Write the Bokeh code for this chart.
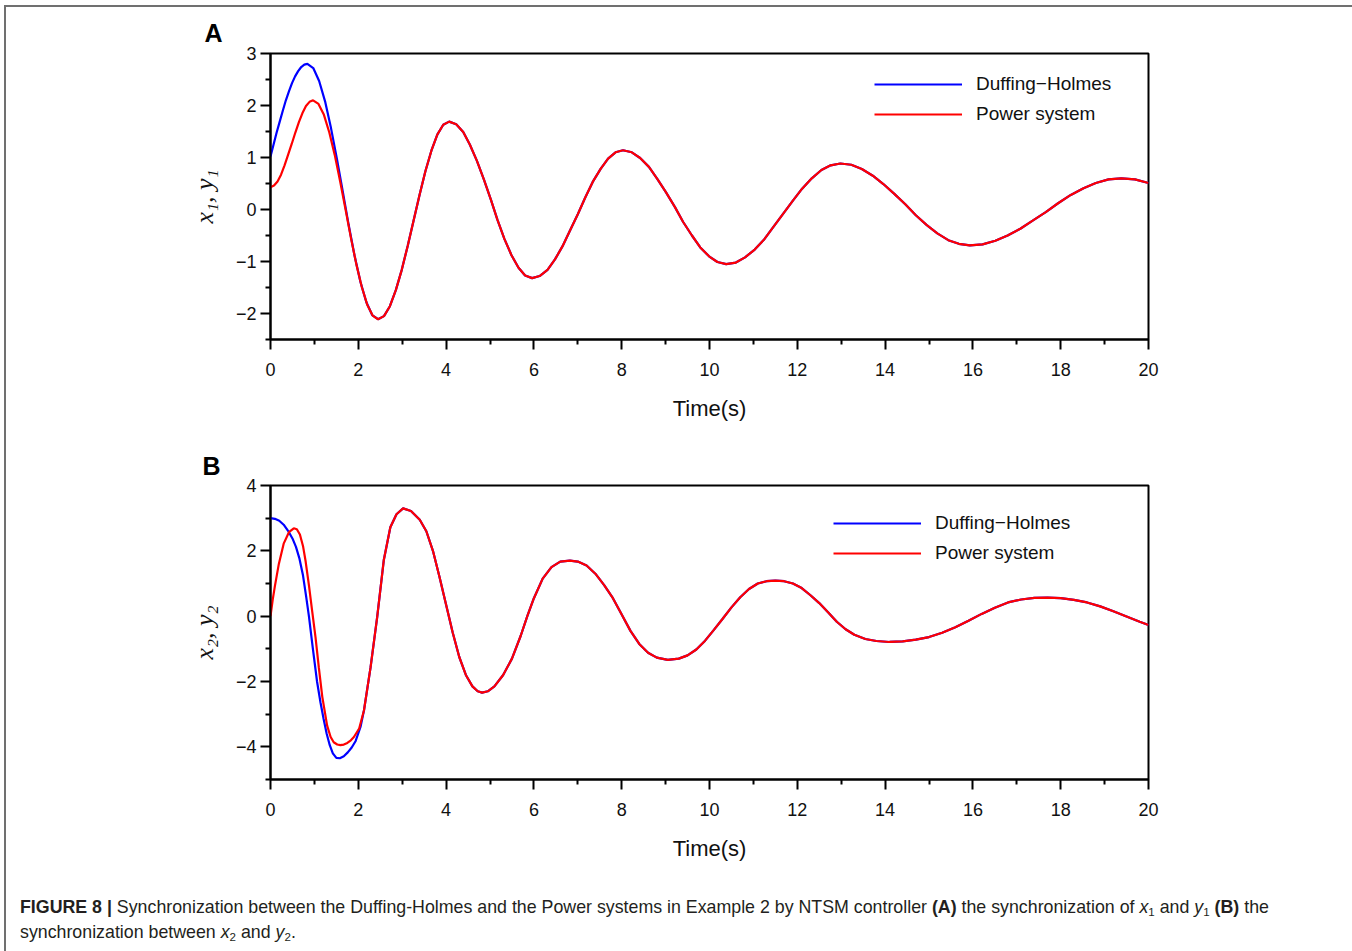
from bokeh.plotting import figure
from bokeh.models import FixedTicker, Legend, LegendItem, Title, Div, CustomJSTickFormatter
from bokeh.layouts import column
from bokeh.embed import file_html
from bokeh.resources import INLINE

# ---------------- Panel A data ----------------
# Duffing-Holmes x1 before it joins the power system curve
a_blue_t = [0.00, 0.07, 0.14, 0.21, 0.28, 0.35, 0.42, 0.49, 0.56, 0.63, 0.70, 0.77, 0.84,
            0.974, 1.108, 1.243, 1.377, 1.511, 1.645, 1.779, 1.913, 2.048, 2.182, 2.316]
a_blue_v = [1.02, 1.25, 1.48, 1.69, 1.90, 2.10, 2.27, 2.43, 2.56, 2.66, 2.74, 2.785, 2.80,
            2.72, 2.47, 2.08, 1.57, 0.98, 0.35, -0.29, -0.88, -1.39, -1.78, -2.03]
# Power system y1 before the common part
a_red_t = [0.00, 0.08, 0.16, 0.24, 0.32, 0.40, 0.485, 0.566, 0.647, 0.728, 0.808, 0.889, 0.97,
           1.093, 1.217, 1.34, 1.463, 1.587, 1.71, 1.833, 1.957, 2.08, 2.203, 2.327]
a_red_v = [0.43, 0.46, 0.54, 0.67, 0.85, 1.05, 1.265, 1.48, 1.68, 1.855, 1.99, 2.07, 2.10,
           2.03, 1.82, 1.48, 1.05, 0.54, 0.0, -0.55, -1.06, -1.49, -1.83, -2.04]
# common (synchronized) part of panel A
a_tail_t = [2.45, 2.585, 2.72, 2.855, 2.99, 3.125, 3.26, 3.395, 3.53, 3.665, 3.80, 3.935, 4.07,
            4.23, 4.39, 4.54, 4.70, 4.86, 5.02, 5.17, 5.33, 5.49, 5.65, 5.80, 5.96,
            6.13, 6.31, 6.48, 6.65, 6.82, 7.00, 7.17, 7.34, 7.52, 7.69, 7.86, 8.03,
            8.23, 8.42, 8.62, 8.81, 9.01, 9.21, 9.40, 9.60, 9.79, 9.99, 10.18, 10.38,
            10.60, 10.81, 11.03, 11.25, 11.46, 11.68, 11.90, 12.11, 12.33, 12.55, 12.76, 12.98,
            13.23, 13.47, 13.72, 13.96, 14.21, 14.46, 14.70, 14.95, 15.19, 15.44, 15.68, 15.93,
            16.22, 16.51, 16.79, 17.08, 17.37, 17.66, 17.94, 18.23, 18.52, 18.80, 19.09, 19.38,
            19.69, 20.00]
a_tail_v = [-2.11, -2.05, -1.86, -1.55, -1.16, -0.70, -0.21, 0.28, 0.74, 1.13, 1.44, 1.63, 1.69,
            1.64, 1.49, 1.25, 0.94, 0.58, 0.19, -0.20, -0.57, -0.88, -1.12, -1.27, -1.32,
            -1.28, -1.16, -0.96, -0.71, -0.41, -0.09, 0.23, 0.53, 0.78, 0.98, 1.10, 1.14,
            1.10, 0.99, 0.82, 0.59, 0.33, 0.05, -0.24, -0.50, -0.73, -0.90, -1.01, -1.05,
            -1.02, -0.92, -0.77, -0.57, -0.33, -0.08, 0.17, 0.40, 0.60, 0.76, 0.85, 0.885,
            0.86, 0.78, 0.65, 0.49, 0.30, 0.10, -0.11, -0.30, -0.46, -0.59, -0.66, -0.69,
            -0.67, -0.60, -0.50, -0.37, -0.21, -0.05, 0.12, 0.28, 0.41, 0.51, 0.58, 0.60,
            0.58, 0.51]

# ---------------- Panel B data ----------------
b_blue_t = [0.00, 0.10, 0.20, 0.30, 0.42, 0.50, 0.58, 0.66, 0.74, 0.81, 0.875, 0.97, 1.06,
            1.14, 1.21, 1.28, 1.35, 1.42, 1.50, 1.58, 1.67, 1.76, 1.85, 1.94, 2.05]
b_blue_v = [3.00, 2.98, 2.92, 2.80, 2.57, 2.38, 2.12, 1.76, 1.25, 0.62, 0.00, -1.05, -2.00,
            -2.65, -3.15, -3.60, -3.95, -4.20, -4.34, -4.35, -4.29, -4.17, -4.02, -3.82, -3.39]
b_red_t = [0.00, 0.05, 0.10, 0.19, 0.30, 0.42, 0.53, 0.60, 0.67, 0.74, 0.80, 0.875, 0.95,
           1.025, 1.10, 1.18, 1.29, 1.37, 1.44, 1.52, 1.59, 1.67, 1.75, 1.83, 1.90, 2.02]
b_red_v = [0.00, 0.50, 0.92, 1.60, 2.22, 2.57, 2.69, 2.66, 2.50, 2.15, 1.68, 0.95, 0.15,
           -0.64, -1.56, -2.47, -3.35, -3.70, -3.86, -3.93, -3.95, -3.93, -3.88, -3.80, -3.70, -3.44]
b_tail_t = [2.13, 2.28, 2.43, 2.58, 2.73, 2.87, 3.02, 3.20, 3.40, 3.55, 3.70, 3.85, 4.00,
            4.15, 4.30, 4.45, 4.60, 4.72, 4.82, 4.95, 5.10, 5.30, 5.50, 5.70, 5.85, 6.00,
            6.20, 6.40, 6.60, 6.82, 7.00, 7.20, 7.40, 7.60, 7.80, 8.00, 8.20, 8.40, 8.60,
            8.80, 9.05, 9.30, 9.50, 9.70, 9.90, 10.10, 10.30, 10.50, 10.70, 10.90, 11.10,
            11.30, 11.50, 11.70, 11.90, 12.10, 12.30, 12.50, 12.70, 12.90, 13.10, 13.30,
            13.55, 13.80, 14.10, 14.40, 14.70, 15.00, 15.30, 15.60, 15.90, 16.20, 16.50,
            16.80, 17.10, 17.40, 17.70, 18.00, 18.30, 18.60, 18.90, 19.20, 19.50, 19.80, 20.00]
b_tail_v = [-2.88, -1.56, -0.03, 1.71, 2.72, 3.12, 3.30, 3.22, 2.95, 2.60, 2.00, 1.20, 0.35,
            -0.50, -1.25, -1.80, -2.15, -2.30, -2.34, -2.30, -2.15, -1.80, -1.30, -0.60, 0.00, 0.55,
            1.15, 1.50, 1.67, 1.70, 1.67, 1.55, 1.30, 0.95, 0.55, 0.05, -0.45, -0.85, -1.12,
            -1.27, -1.34, -1.30, -1.20, -1.02, -0.75, -0.42, -0.08, 0.27, 0.58, 0.83, 1.00,
            1.07, 1.09, 1.07, 1.00, 0.86, 0.64, 0.40, 0.12, -0.17, -0.40, -0.57,
            -0.70, -0.76, -0.79, -0.77, -0.72, -0.64, -0.51, -0.34, -0.14, 0.07, 0.26,
            0.42, 0.51, 0.56, 0.57, 0.55, 0.50, 0.42, 0.30, 0.15, -0.01, -0.17, -0.27]

x_major = [0, 2, 4, 6, 8, 10, 12, 14, 16, 18, 20]
x_minor = [1, 3, 5, 7, 9, 11, 13, 15, 17, 19]
a_y_major = [-2, -1, 0, 1, 2, 3]
a_y_minor = [-2.5, -1.5, -0.5, 0.5, 1.5, 2.5]
b_y_major = [-4, -2, 0, 2, 4]
b_y_minor = [-5, -3, -1, 1, 3]

series_names = ["Duffing\u2212Holmes", "Power system"]
BLUE = "#0000ff"
RED = "#ff0000"
SANS = "Liberation Sans"
FIG_W = 1342

minus_fmt = CustomJSTickFormatter(code="""
    const v = Math.round(tick * 100) / 100;
    return v < 0 ? '\\u2212' + String(Math.abs(v)) : String(v);
""")


def make_panel(height, y_range, y_major, y_minor, ylabel, panel_letter, letter_offset,
               letter_standoff, t_blue, v_blue, t_red, v_red, legend_margin, legend_label_w):
    p = figure(width=FIG_W, height=height, x_range=(0, 20), y_range=y_range,
               output_backend="svg", toolbar_location=None,
               min_border_left=264, min_border_right=200,
               min_border_top=46 if panel_letter == "A" else 45, min_border_bottom=101)
    p.background_fill_color = "white"
    p.border_fill_color = "white"
    p.grid.visible = False
    p.outline_line_color = "black"
    p.outline_line_width = 2
    p.outline_line_alpha = 1

    for ax in (p.xaxis[0], p.yaxis[0]):
        ax.axis_line_width = 2
        ax.axis_line_color = "black"
        ax.major_tick_line_width = 2
        ax.minor_tick_line_width = 2
        ax.major_tick_in = 0
        ax.minor_tick_in = 0
        ax.major_tick_out = 10
        ax.minor_tick_out = 5
        ax.major_label_text_font = SANS
        ax.major_label_text_font_size = "18px"
        ax.major_label_text_color = "#111111"
        ax.formatter = minus_fmt

    p.xaxis.ticker = FixedTicker(ticks=x_major, minor_ticks=x_minor)
    p.yaxis.ticker = FixedTicker(ticks=y_major, minor_ticks=y_minor)
    p.xaxis.major_label_standoff = 13
    p.yaxis.major_label_standoff = 4

    p.xaxis.axis_label = "Time(s)"
    p.xaxis.axis_label_text_font = SANS
    p.xaxis.axis_label_text_font_style = "normal"
    p.xaxis.axis_label_text_font_size = "22px"
    p.xaxis.axis_label_text_color = "#111111"
    p.xaxis.axis_label_standoff = 17

    p.yaxis.axis_label = ylabel
    p.yaxis.axis_label_text_font = "Liberation Serif"
    p.yaxis.axis_label_text_font_style = "italic"
    p.yaxis.axis_label_text_font_size = "26px"
    p.yaxis.axis_label_text_color = "#111111"
    p.yaxis.axis_label_standoff = 14

    r_blue = p.line(t_blue, v_blue, line_color=BLUE, line_width=2.2)
    r_red = p.line(t_red, v_red, line_color=RED, line_width=2.2)

    legend = Legend(items=[LegendItem(label=series_names[0], renderers=[r_blue]),
                           LegendItem(label=series_names[1], renderers=[r_red])],
                    location="top_right", margin=legend_margin, padding=10,
                    glyph_width=88, glyph_height=20, label_height=20,
                    label_width=legend_label_w, label_standoff=14, spacing=8,
                    label_text_font=SANS, label_text_font_size="19px",
                    label_text_color="#111111",
                    border_line_alpha=0, background_fill_alpha=0)
    p.add_layout(legend)

    p.add_layout(Title(text=panel_letter, align="left", offset=letter_offset,
                       standoff=letter_standoff,
                       text_font=SANS, text_font_style="bold", text_font_size="25px",
                       text_color="black"), "above")
    return p


pA = make_panel(433, (-2.5, 3), a_y_major, a_y_minor, "x\u2081, y\u2081", "A", -66, 13,
                a_blue_t + a_tail_t, a_blue_v + a_tail_v,
                a_red_t + a_tail_t, a_red_v + a_tail_v, 10, 152)
pB = make_panel(440, (-5, 4), b_y_major, b_y_minor, "x\u2082, y\u2082", "B", -68, 11,
                b_blue_t + b_tail_t, b_blue_v + b_tail_v,
                b_red_t + b_tail_t, b_red_v + b_tail_v, 17, 186)

sub = "font-size:65%;vertical-align:-0.3em;line-height:0;"
caption_html = (
    '<div style="font-family:\'Liberation Sans\',Arial,sans-serif;font-size:17.8px;'
    'line-height:25px;color:#231f20;white-space:nowrap;padding:10px 0 0 9px;">'
    '<b>FIGURE 8 |</b> Synchronization between the Duffing-Holmes and the Power systems in '
    'Example 2 by NTSM controller <b>(A)</b> the synchronization of '
    f'<i>x</i><span style="{sub}">1</span> and <i>y</i><span style="{sub}">1</span> '
    '<b>(B)</b> the<br>synchronization between '
    f'<i>x</i><span style="{sub}">2</span> and <i>y</i><span style="{sub}">2</span>.'
    '</div>'
)
cap = Div(text=caption_html, width=FIG_W, height=66)

layout = column(pA, pB, cap,
                styles={"margin-left": "4px", "margin-top": "5px",
                        "border-top": "2px solid #707070",
                        "border-left": "2px solid #707070",
                        "border-right": "2px solid #707070"})

open("out.html", "w").write(file_html(layout, INLINE))
